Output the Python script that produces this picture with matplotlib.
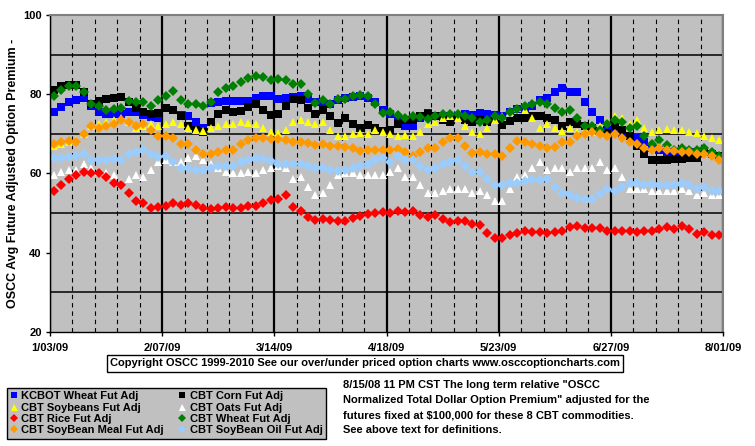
import numpy as np
import matplotlib
matplotlib.use('Agg')
import matplotlib.pyplot as plt

# tick labels on the date axis (every 5 weeks from 1/03/09)
date_labels = ['1/03/09', '2/07/09', '3/14/09', '4/18/09', '5/23/09', '6/27/09', '8/01/09']
n_weeks = 30

# three readings per week (early / mid / late week), weeks starting 1/03/09
kcbot_wheat = [
    75.4, 76.8, 78.1, 78.5, 79.0, 77.0, 75.5, 75.0, 75.0, 75.0, 75.4, 75.5,
    74.8, 74.2, 74.0, 76.5, 76.0, 74.8, 74.5, 73.0, 71.5, 77.8, 78.0, 78.2,
    78.3, 78.3, 78.2, 79.0, 79.5, 79.5, 78.8, 79.0, 79.3, 79.5, 78.8, 78.0,
    77.5, 77.6, 78.5, 79.0, 79.3, 79.5, 79.0, 78.0, 76.0, 75.0, 73.5, 72.0,
    72.0, 74.0, 75.2, 74.5, 74.5, 74.0, 74.5, 75.0, 74.7, 75.2, 75.0, 74.8,
    74.5, 75.5, 76.3, 76.5, 77.0, 78.5, 79.0, 80.5, 81.6, 80.5, 80.5, 78.1,
    75.6, 73.5, 71.0, 70.5, 70.0, 69.5, 69.0, 68.0, 66.5, 66.0, 65.5, 65.5,
    65.5, 65.5, 65.5, 65.5, 65.0, 64.5]
cbt_corn = [
    81.0, 82.0, 82.3, 82.3, 80.5, 77.5, 78.2, 78.7, 79.0, 79.3, 78.0, 76.5,
    75.5, 75.0, 75.2, 76.5, 76.0, 74.5, 72.0, 71.0, 70.5, 73.0, 75.0, 76.0,
    75.5, 75.8, 76.8, 77.5, 76.0, 74.8, 75.0, 77.0, 78.8, 78.5, 76.5, 75.0,
    76.0, 74.5, 72.8, 74.0, 72.5, 71.5, 72.2, 71.5, 70.8, 71.0, 72.5, 73.5,
    73.5, 74.5, 75.0, 74.5, 73.5, 73.0, 74.0, 73.5, 73.0, 73.5, 73.0, 73.5,
    72.3, 73.2, 74.0, 74.0, 74.5, 74.5, 74.0, 73.5, 72.0, 73.0, 72.5, 72.0,
    71.5, 70.8, 70.3, 72.0, 71.0, 69.5, 67.0, 65.0, 63.5, 63.3, 63.5, 63.7,
    63.6, 63.8, 64.0, 65.5, 65.0, 64.5]
cbt_soybeans = [
    67.0, 67.5, 68.0, 68.5, 70.0, 72.0, 72.5, 73.0, 73.5, 74.0, 73.0, 71.5,
    72.0, 72.5, 72.0, 72.5, 73.0, 72.5, 71.5, 71.0, 70.8, 71.5, 72.0, 72.5,
    72.5, 73.0, 72.8, 72.5, 71.5, 70.5, 70.3, 71.0, 73.0, 73.5, 73.0, 72.5,
    73.0, 71.0, 69.5, 69.5, 70.0, 70.3, 70.0, 71.0, 70.5, 70.0, 69.5, 69.8,
    69.5, 70.5, 72.5, 73.0, 74.0, 74.5, 74.0, 72.0, 70.5, 70.0, 71.5, 73.5,
    74.5, 75.5, 76.5, 76.0, 74.0, 71.5, 72.5, 71.5, 70.8, 71.5, 70.5, 71.0,
    70.5, 72.0, 73.0, 74.5, 74.0, 72.5, 73.5, 71.5, 70.5, 71.0, 71.3, 71.0,
    71.0, 70.5, 70.3, 69.5, 69.0, 68.5]
cbt_oats = [
    59.5, 60.5, 61.0, 61.0, 62.5, 61.5, 60.5, 60.0, 59.5, 57.5, 58.5, 59.5,
    59.0, 61.0, 63.0, 63.5, 63.0, 63.0, 64.0, 64.5, 63.5, 62.5, 61.5, 60.5,
    60.0, 60.0, 60.3, 60.0, 61.0, 61.5, 62.0, 61.5, 58.5, 59.0, 56.5, 54.5,
    55.0, 57.0, 59.5, 60.0, 60.0, 59.5, 59.5, 59.5, 59.5, 60.5, 61.5, 59.0,
    59.0, 57.0, 55.0, 55.0, 55.5, 56.0, 56.0, 56.0, 55.0, 55.5, 54.5, 53.0,
    53.0, 56.0, 59.0, 59.5, 61.5, 63.0, 61.0, 61.5, 61.5, 60.5, 61.5, 61.5,
    61.5, 63.0, 61.0, 61.5, 59.0, 56.0, 56.0, 56.0, 55.5, 55.5, 55.5, 55.5,
    56.0, 55.5, 54.5, 55.0, 54.5, 54.5]
cbt_rice = [
    55.5, 57.0, 58.5, 59.5, 60.5, 60.0, 60.0, 59.0, 57.5, 57.0, 55.0, 53.0,
    52.5, 51.3, 51.5, 51.8, 52.5, 52.0, 52.5, 52.0, 51.3, 51.0, 51.3, 51.5,
    51.2, 51.3, 51.8, 51.8, 52.5, 53.3, 53.5, 54.5, 51.5, 50.5, 49.0, 48.2,
    48.5, 48.3, 48.0, 48.0, 48.7, 49.3, 49.8, 50.0, 50.3, 50.0, 50.5, 50.3,
    50.5, 49.5, 49.0, 49.5, 48.5, 47.8, 48.0, 48.0, 47.3, 47.0, 45.0, 43.7,
    43.8, 44.5, 45.0, 45.5, 45.3, 45.3, 45.0, 45.3, 45.5, 46.5, 46.8, 46.3,
    46.3, 46.2, 45.5, 45.5, 45.5, 45.5, 45.3, 45.5, 45.5, 46.0, 46.5, 46.0,
    46.8, 46.0, 44.8, 45.2, 44.5, 44.5]
cbt_wheat = [
    79.5, 81.0, 82.0, 82.0, 80.5, 77.5, 77.0, 76.0, 76.2, 76.5, 78.2, 78.0,
    78.0, 77.0, 78.5, 79.5, 80.8, 78.5, 77.5, 77.5, 77.0, 78.0, 80.5, 81.5,
    82.0, 83.0, 84.0, 84.5, 84.3, 83.5, 83.8, 83.5, 82.5, 82.5, 80.0, 77.8,
    78.5, 77.5, 78.8, 78.8, 79.5, 79.8, 79.5, 77.5, 75.3, 75.5, 74.8, 74.0,
    74.5, 74.3, 73.8, 74.5, 75.0, 75.0, 75.0, 74.5, 74.0, 73.0, 73.5, 74.5,
    74.0, 75.5, 76.3, 77.0, 77.5, 78.0, 77.5, 76.5, 75.5, 76.0, 74.0, 72.0,
    72.0, 71.0, 72.5, 73.5, 73.0, 71.5, 72.0, 69.5, 67.5, 68.5, 67.3, 66.0,
    66.5, 66.0, 66.0, 66.5, 65.5, 64.5]
cbt_meal = [
    67.5, 68.0, 68.2, 68.0, 70.0, 72.0, 71.5, 72.0, 72.5, 73.5, 73.0, 72.0,
    72.5, 71.0, 69.5, 69.5, 69.0, 67.5, 67.5, 66.0, 65.0, 65.0, 65.5, 66.0,
    66.0, 67.5, 68.5, 69.0, 69.0, 68.8, 68.7, 68.5, 68.0, 68.0, 67.8, 67.2,
    67.5, 67.0, 67.0, 66.8, 66.5, 65.8, 66.0, 66.0, 66.0, 66.0, 66.3, 65.3,
    64.5, 65.5, 66.5, 66.5, 68.0, 69.0, 69.0, 67.0, 65.2, 65.5, 64.8, 65.0,
    64.5, 66.5, 68.3, 68.0, 67.5, 67.0, 66.5, 66.8, 68.0, 68.0, 69.5, 70.0,
    70.5, 70.0, 69.5, 70.0, 69.0, 68.0, 67.5, 66.5, 66.0, 66.5, 66.0, 65.8,
    65.5, 65.3, 65.0, 65.0, 64.5, 63.5]
cbt_oil = [
    64.0, 64.0, 64.2, 64.5, 64.8, 63.5, 63.5, 63.5, 63.7, 63.5, 65.0, 65.3,
    66.0, 65.0, 64.2, 64.5, 63.0, 61.5, 61.3, 61.0, 61.0, 61.5, 61.8, 62.0,
    62.0, 62.8, 63.5, 64.0, 63.7, 63.2, 62.5, 62.5, 62.3, 62.3, 61.8, 61.3,
    61.5, 61.0, 60.7, 60.8, 61.5, 62.0, 62.5, 63.3, 63.8, 63.0, 64.3, 63.5,
    63.3, 62.0, 61.0, 61.3, 62.3, 63.0, 63.5, 62.0, 60.3, 60.3, 58.5, 57.0,
    57.0, 57.5, 57.7, 58.2, 58.5, 58.3, 58.5, 56.5, 55.0, 54.5, 53.8, 53.5,
    53.5, 54.8, 56.0, 55.5, 56.5, 57.5, 57.5, 57.0, 57.3, 57.0, 57.2, 57.0,
    57.5, 57.0, 56.0, 56.5, 55.5, 55.5]

series = [
    ('KCBOT Wheat Fut Adj', kcbot_wheat, '#0000FF', 's', 5.2),
    ('CBT Corn Fut Adj', cbt_corn, '#000000', 's', 5.2),
    ('CBT Soybeans Fut Adj', cbt_soybeans, '#FFFF00', '^', 6.3),
    ('CBT Oats Fut Adj', cbt_oats, '#FFFFFF', '^', 6.3),
    ('CBT Rice Fut Adj', cbt_rice, '#FF0000', 'D', 4.6),
    ('CBT Wheat Fut Adj', cbt_wheat, '#008000', 'D', 4.6),
    ('CBT SoyBean Meal Fut Adj', cbt_meal, '#FF9900', 'D', 4.6),
    ('CBT SoyBean Oil Fut Adj', cbt_oil, '#99CCFF', 'D', 4.6),
]

plt.rcParams['font.family'] = ['Liberation Sans', 'DejaVu Sans']
plt.rcParams['font.weight'] = 'bold'

fig = plt.figure(figsize=(7.55, 4.46), dpi=100)
ax = fig.add_axes([50 / 755, 114 / 446, 673 / 755, 317 / 446])
ax.set_facecolor('#C0C0C0')

# days since 1/03/09, readings spread evenly across each week
x = np.arange(n_weeks * 3) * 7 / 3 + 7 / 6

handles = {}
for name, vals, col, mk, ms in series:
    h, = ax.plot(x, vals, linestyle='none', marker=mk, markersize=ms,
                 color=col, markeredgewidth=0, label=name)
    handles[name] = h

ax.set_xlim(0, n_weeks * 7)
ax.set_ylim(20, 100)
ax.set_xticks(np.arange(0, n_weeks * 7 + 1, 35))
ax.set_xticklabels(date_labels)
ax.set_xticks(np.arange(0, n_weeks * 7 + 1, 7), minor=True)
ax.set_yticks([20, 40, 60, 80, 100])
ax.set_yticks(np.arange(20, 101, 10), minor=True)

ax.set_axisbelow(True)
ax.grid(axis='x', which='major', color='black', linewidth=1.6)
ax.grid(axis='x', which='minor', color='black', linewidth=0.8, linestyle=(0, (4, 3.5)))
ax.grid(axis='y', which='minor', color='black', linewidth=1.1)

ax.tick_params(axis='both', which='major', direction='out', length=3, width=1,
               labelsize=8, color='black')
ax.tick_params(axis='both', which='minor', length=0)
ax.tick_params(axis='x', pad=5)
ax.tick_params(axis='y', pad=3)
for lab in ax.get_xticklabels() + ax.get_yticklabels():
    lab.set_fontweight('bold')

for side in ['left', 'bottom']:
    ax.spines[side].set_color('black')
    ax.spines[side].set_linewidth(1)
for side in ['top', 'right']:
    ax.spines[side].set_color('#808080')
    ax.spines[side].set_linewidth(1.5)

ax.set_ylabel('OSCC Avg Future Adjusted Option Premium -', fontsize=9, fontweight='bold')
ax.yaxis.set_label_coords(-0.046, 0.5)

fig.text(365 / 755, 1 - 363.5 / 446,
         'Copyright OSCC 1999-2010 See our over/under priced option charts www.osccoptioncharts.com',
         ha='center', va='center', fontsize=8, fontweight='bold',
         bbox=dict(boxstyle='square,pad=0.3', facecolor='white', edgecolor='black', linewidth=1))

legend_order = ['KCBOT Wheat Fut Adj', 'CBT Soybeans Fut Adj', 'CBT Rice Fut Adj',
                'CBT SoyBean Meal Fut Adj', 'CBT Corn Fut Adj', 'CBT Oats Fut Adj',
                'CBT Wheat Fut Adj', 'CBT SoyBean Oil Fut Adj']
leg = fig.legend([handles[n] for n in legend_order], legend_order, ncol=2,
                 loc='upper left', bbox_to_anchor=(7 / 755, 1 - 388 / 446),
                 frameon=True, fancybox=False, edgecolor='black', facecolor='#C0C0C0',
                 framealpha=1, prop=dict(weight='bold', size=8), markerscale=0.8,
                 handlelength=0.7, handletextpad=0.3, columnspacing=1.3,
                 labelspacing=0.12, borderpad=0.3, borderaxespad=0)
leg.get_frame().set_linewidth(1)

note_lines = ['8/15/08 11 PM CST The long term relative "OSCC',
              'Normalized Total Dollar Option Premium" adjusted for the',
              'futures fixed at $100,000 for these 8 CBT commodities.',
              'See above text for definitions.']
for i, line in enumerate(note_lines):
    fig.text(343 / 755, 1 - (385 + 15 * i) / 446, line, ha='left', va='center',
             fontsize=8, fontweight='bold')

fig.savefig('out.png', dpi=100, facecolor='white')
